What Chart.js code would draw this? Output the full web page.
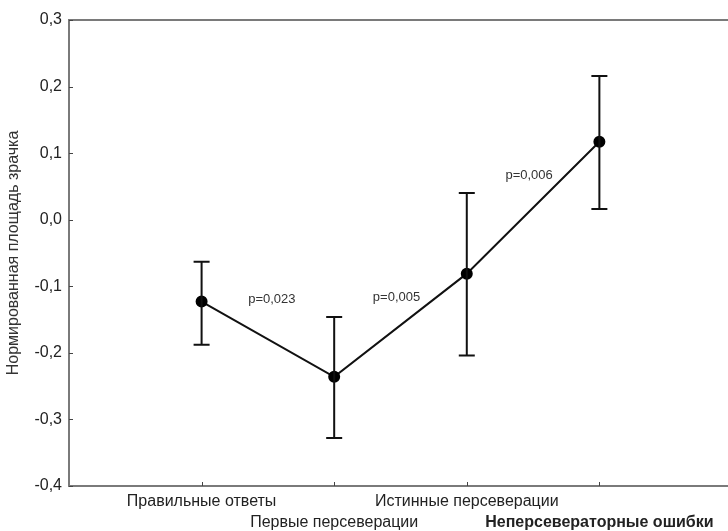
<!DOCTYPE html>
<html>
<head>
<meta charset="utf-8">
<script src="https://cdn.jsdelivr.net/npm/chart.js@4"></script>
<style>
  html, body { margin: 0; padding: 0; background: #fff; overflow: hidden; }
  canvas { display: block; }
</style>
</head>
<body>
<canvas id="grafico" width="728" height="531"></canvas>
<script>
'use strict';

// данные
const categorias = ['Правильные ответы', 'Первые персеверации', 'Истинные персеверации', 'Неперсевераторные ошибки'];
const medias     = [-0.123, -0.236, -0.081, 0.117];
const limInf     = [-0.188, -0.328, -0.204, 0.016];
const limSup     = [-0.063, -0.146, 0.040, 0.216];
const yTicks     = [0.3, 0.2, 0.1, 0.0, -0.1, -0.2, -0.3, -0.4];
const pTextos    = ['p=0,023', 'p=0,005', 'p=0,006'];
const pX         = [1.53, 2.47, 3.47];
const pY         = [-0.119, -0.117, 0.066];

const FUENTE = '"Liberation Sans", Arial, sans-serif';
const GRIS = '#7a7a7a';

const fmt = v => (Math.round(v * 10) / 10).toFixed(1).replace('.', ',');

/* ── plugin: marco superior, marcas internas, barras de error y p-valores ── */
const extras = {
    id: 'extras',
    afterDatasetsDraw(chart) {
        const { ctx, chartArea: a, scales: { x, y } } = chart;
        ctx.save();

        // línea superior del marco
        ctx.strokeStyle = GRIS;
        ctx.lineWidth = 2;
        ctx.beginPath();
        ctx.moveTo(a.left, a.top);
        ctx.lineTo(a.right, a.top);
        ctx.stroke();

        // marcas de los ejes hacia dentro
        ctx.lineWidth = 1;
        ctx.strokeStyle = '#444';
        y.ticks.forEach(t => {
            const py = Math.round(y.getPixelForValue(t.value)) + 0.5;
            ctx.beginPath();
            ctx.moveTo(a.left, py);
            ctx.lineTo(a.left + 4, py);
            ctx.stroke();
        });
        x.ticks.forEach(t => {
            const px = Math.round(x.getPixelForValue(t.value)) + 0.5;
            ctx.beginPath();
            ctx.moveTo(px, a.bottom);
            ctx.lineTo(px, a.bottom - 4);
            ctx.stroke();
        });

        // barras de error
        ctx.strokeStyle = '#111';
        ctx.lineWidth = 2;
        medias.forEach((m, i) => {
            const px = x.getPixelForValue(i + 1);
            const y1 = y.getPixelForValue(limSup[i]);
            const y2 = y.getPixelForValue(limInf[i]);
            ctx.beginPath();
            ctx.moveTo(px, y1); ctx.lineTo(px, y2);
            ctx.moveTo(px - 8, y1); ctx.lineTo(px + 8, y1);
            ctx.moveTo(px - 8, y2); ctx.lineTo(px + 8, y2);
            ctx.stroke();
        });

        // p-valores
        ctx.fillStyle = '#333';
        ctx.font = '13px ' + FUENTE;
        ctx.textAlign = 'center';
        ctx.textBaseline = 'middle';
        pTextos.forEach((txt, i) => {
            ctx.fillText(txt, x.getPixelForValue(pX[i]), y.getPixelForValue(pY[i]));
        });

        ctx.restore();
    }
};

new Chart(document.getElementById('grafico'), {
    type: 'line',
    data: {
        datasets: [{
            data: categorias.map((c, i) => ({ x: i + 1, y: medias[i] })),
            borderColor: '#111',
            borderWidth: 2,
            pointRadius: 5,
            pointBackgroundColor: '#000',
            pointBorderColor: '#000',
            tension: 0
        }]
    },
    options: {
        responsive: false,
        animation: false,
        layout: { autoPadding: false, padding: { top: 20, left: 0, right: 0, bottom: 0 } },
        plugins: {
            legend: { display: false },
            tooltip: { enabled: false }
        },
        scales: {
            x: {
                type: 'linear',
                min: 0,
                max: 4.97,
                grid: { display: false, drawTicks: false },
                border: { color: GRIS, width: 2 },
                afterBuildTicks: s => { s.ticks = categorias.map((c, i) => ({ value: i + 1 })); },
                afterFit: s => { s.height = 45; s.paddingLeft = 0; s.paddingRight = 0; },
                ticks: {
                    padding: 5,
                    maxRotation: 0,
                    autoSkip: false,
                    color: '#222',
                    font: c => ({ family: FUENTE, size: 16, lineHeight: 1.3125, weight: c.index === 3 ? 'bold' : 'normal' }),
                    callback: v => {
                        const i = Math.round(v) - 1;
                        return i % 2 === 0 ? [categorias[i], ''] : ['', categorias[i]];
                    }
                }
            },
            y: {
                min: -0.4,
                max: 0.3,
                grid: { display: false, drawTicks: false },
                border: { color: GRIS, width: 2 },
                afterBuildTicks: s => { s.ticks = yTicks.map(v => ({ value: v })); },
                afterFit: s => { s.width = 69; s.paddingTop = 0; s.paddingBottom = 0; },
                ticks: {
                    padding: 7,
                    color: '#222',
                    font: { family: FUENTE, size: 16 },
                    callback: v => fmt(v)
                },
                title: {
                    display: true,
                    text: 'Нормированная площадь зрачка',
                    color: '#333',
                    font: { family: FUENTE, size: 16 },
                    padding: { top: 4, bottom: 0 }
                }
            }
        }
    },
    plugins: [extras]
});
</script>
</body>
</html>
